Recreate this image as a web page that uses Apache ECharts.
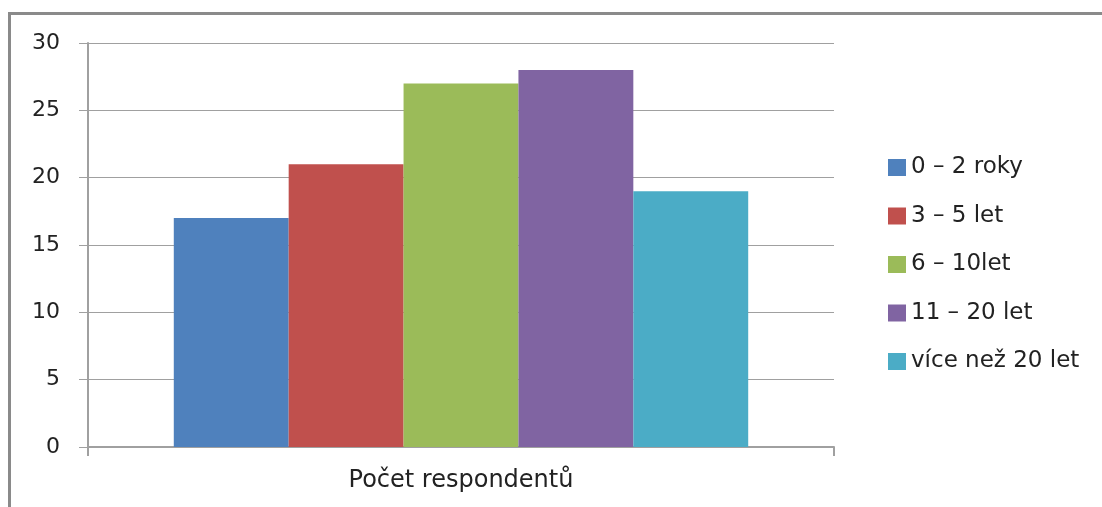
<!DOCTYPE html>
<html>
<head>
<meta charset="utf-8">
<script src="https://cdn.jsdelivr.net/npm/echarts@6/dist/echarts.min.js"></script>
<style>
html,body{margin:0;padding:0;background:#fff}
.frame{position:absolute;left:8px;top:12px;width:1094px;height:495px;border-top:3px solid #8a8a8a;border-left:3px solid #8a8a8a;box-sizing:border-box}
#chart{width:1102px;height:507px;position:absolute;left:0;top:0}
</style>
</head>
<body>
<div class="frame"></div>
<div id="chart"></div>
<script>
var categories = ['Počet respondentů']
var seriesNames = ['0 – 2 roky', '3 – 5 let', '6 – 10let', '11 – 20 let', 'více než 20 let']
var seriesValues = [17, 21, 27, 28, 19]
var colors = ['#4f81bd', '#c0504d', '#9bbb59', '#8064a2', '#4bacc6']

var chart = echarts.init(document.getElementById('chart'))
var font = '"DejaVu Sans", sans-serif'

var series = seriesNames.map(function (name, i) {
  return {
    name: name,
    type: 'bar',
    barGap: '0%',
    barCategoryGap: '23%',
    itemStyle: { color: colors[i] },
    data: [seriesValues[i]]
  }
})

chart.setOption({
  animation: false,
  textStyle: { fontFamily: font },
  grid: { left: 88, right: 268, top: 43, bottom: 60 },
  legend: {
    orient: 'vertical',
    left: 883,
    top: 151,
    itemWidth: 18,
    itemHeight: 17,
    itemGap: 25.5,
    icon: 'rect',
    textStyle: { fontSize: 23, color: '#222', fontFamily: font },
    data: seriesNames
  },
  xAxis: {
    type: 'category',
    data: categories,
    axisLine: { lineStyle: { color: '#a0a0a0', width: 2 } },
    axisTick: { show: true, length: 9, lineStyle: { color: '#a0a0a0', width: 2 } },
    axisLabel: { fontSize: 24, color: '#222', margin: 22, fontFamily: font }
  },
  yAxis: {
    type: 'value',
    min: 0,
    max: 30,
    interval: 5,
    axisLine: { show: true, lineStyle: { color: '#a0a0a0', width: 2 } },
    axisTick: { show: true, length: 9, lineStyle: { color: '#a0a0a0', width: 1 } },
    splitLine: { lineStyle: { color: '#a0a0a0', width: 1 } },
    axisLabel: { fontSize: 22, color: '#222', margin: 28, fontFamily: font }
  },
  series: series
})
</script>
</body>
</html>
